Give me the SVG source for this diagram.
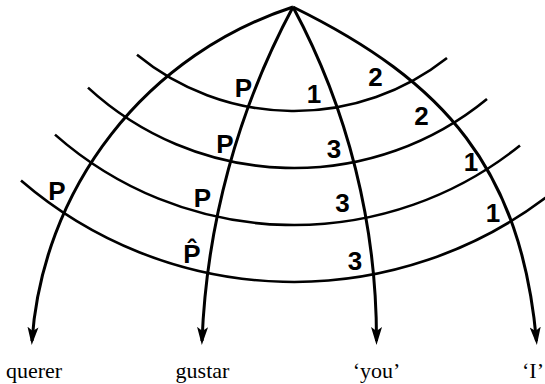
<svg xmlns="http://www.w3.org/2000/svg" width="545" height="384" viewBox="0 0 545 384">
<style>
.bg{fill:#fff}
.mer{fill:none;stroke:#000;stroke-width:3;marker-end:url(#ah)}
.arc{fill:none;stroke:#000;stroke-width:2.6}
.lab{font-family:"Liberation Sans",Arial,sans-serif;font-size:26px;font-weight:bold;fill:#000;text-anchor:middle}
.word{font-family:"Liberation Serif","Times New Roman",serif;font-size:22px;fill:#000}
</style>
<defs>
<marker id="ah" markerUnits="userSpaceOnUse" markerWidth="20" markerHeight="12" viewBox="0 0 20 12" refX="14" refY="6" orient="auto">
<path d="M0,0.5 L18,6 L0,11.5 L4,6 Z" fill="#000"/>
</marker>
</defs>
<rect class="bg" x="0" y="0" width="545" height="384"/>
<g id="connectors">
<path id="arc1" class="arc" d="M137 54.7 A247 247 0 0 0 447 57.9"/>
<path id="arc2" class="arc" d="M88 87.6 A304 304 0 0 0 487 98.9"/>
<path id="arc3" class="arc" d="M55 134.6 A361 361 0 0 0 520 145.5"/>
<path id="arc4" class="arc" d="M21 180.5 A418 418 0 0 0 550 194.4"/>
<path id="m-querer" class="mer" d="M293 7 A379 379 0 0 0 32 341"/>
<path id="m-gustar" class="mer" d="M293 7 A771 771 0 0 0 202 341"/>
<path id="m-you" class="mer" d="M293 7 A703 703 0 0 1 376.5 341"/>
<path id="m-I" class="mer" d="M293 7 C446 82 521 170 536.5 341"/>
</g>
<g id="labels">
<text class="lab" x="243.5" y="97">P</text>
<text class="lab" x="314" y="103">1</text>
<text class="lab" x="375.5" y="86">2</text>
<text class="lab" x="225" y="153">P</text>
<text class="lab" x="334" y="158">3</text>
<text class="lab" x="421.5" y="125">2</text>
<text class="lab" x="471" y="171">1</text>
<text class="lab" x="57" y="200">P</text>
<text class="lab" x="202.5" y="207">P</text>
<text class="lab" x="342.5" y="212">3</text>
<text class="lab" x="493" y="222">1</text>
<text class="lab" x="192" y="263">P&#x302;</text>
<text class="lab" x="355" y="270">3</text>
</g>
<g id="node-querer"><text class="word" x="34" y="378" text-anchor="middle">querer</text></g>
<g id="node-gustar"><text class="word" x="202.5" y="378" text-anchor="middle">gustar</text></g>
<g id="node-you"><text class="word" x="376.5" y="378" text-anchor="middle">‘you’</text></g>
<g id="node-I"><text class="word" x="544" y="378" text-anchor="end">‘I’</text></g>
</svg>
